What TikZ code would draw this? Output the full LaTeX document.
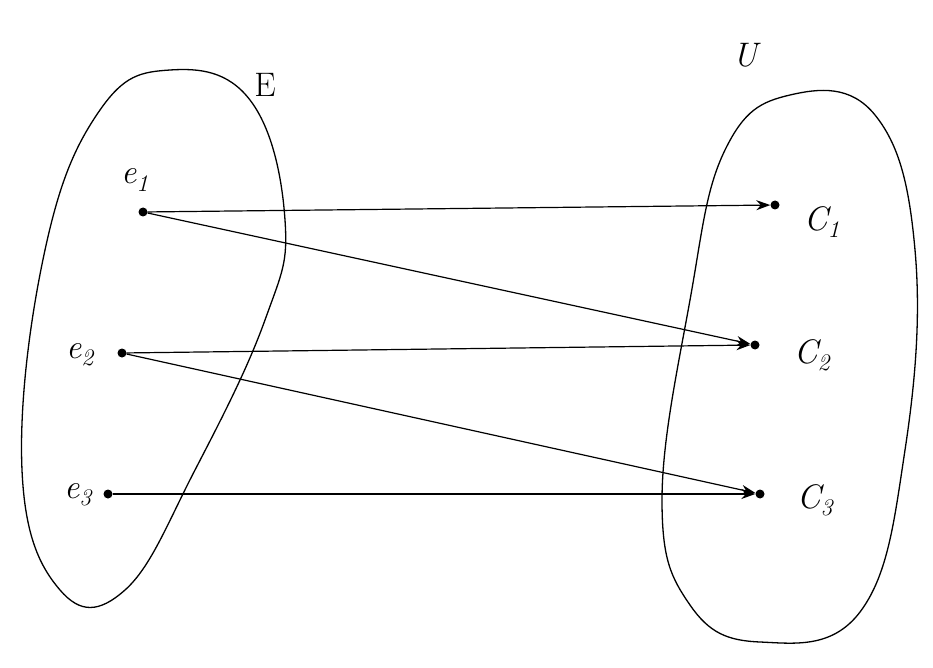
\documentclass[tikz,border=0pt]{standalone}
\usepackage{fontspec}
\usetikzlibrary{arrows.meta}
\begin{document}
\begin{tikzpicture}[x=1pt,y=-1pt,
  pt/.style={circle,fill=black,inner sep=0pt,minimum size=9pt},
  lab/.style={font=\fontsize{34}{38}\selectfont\itshape},
  arr/.style={-{Stealth[length=14pt,width=10pt]},line width=1.2pt},
  blob/.style={line width=1.3pt}]
\useasboundingbox (0,0) rectangle (933,668);
\draw[blob] plot[smooth cycle,tension=0.7] coordinates {(170,70) (100,110) (45,250) (22,470) (60,590) (125,590) (195,470) (265,320) (285,220) (250,100)};
\draw[blob] plot[smooth cycle,tension=0.7] coordinates {(790,95) (725,150) (690,300) (662,500) (690,605) (760,642) (860,612) (905,450) (915,250) (875,115)};
\node[pt] (e1) at (143,212) {};
\node[pt] (e2) at (122,353) {};
\node[pt] (e3) at (108,494) {};
\node[pt] (c1) at (775,205) {};
\node[pt] (c2) at (755,345) {};
\node[pt] (c3) at (760,494) {};
\node[lab] (le1) at (135,180) {e\textsubscript{1}};
\node[lab] (le2) at (80,355) {e\textsubscript{2}};
\node[lab] (le3) at (78,495) {e\textsubscript{3}};
\node[lab] (lE) at (265,85) {\upshape E};
\node[lab] (lU) at (745,55) {U};
\node[lab] (lc1) at (822,222) {C\textsubscript{1}};
\node[lab] (lc2) at (812,355) {C\textsubscript{2}};
\node[lab] (lc3) at (815,500) {C\textsubscript{3}};
\draw[arr] (e1) -- (c1);
\draw[arr] (e1) -- (c2);
\draw[arr] (e2) -- (c2);
\draw[arr] (e2) -- (c3);
\draw[arr] (e3) -- (c3);
\end{tikzpicture}
\end{document}
